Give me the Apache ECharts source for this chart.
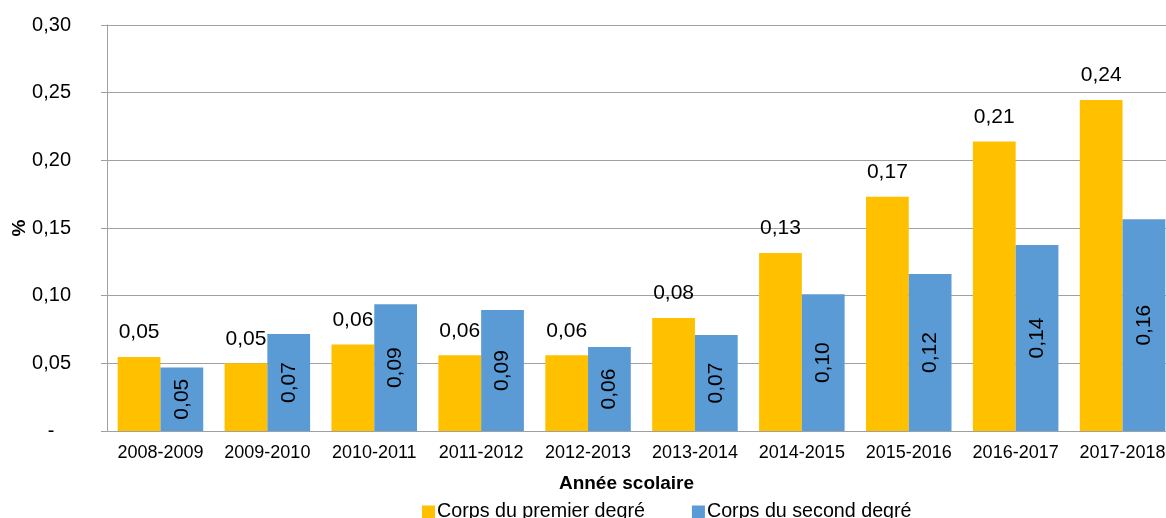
<!DOCTYPE html>
<html>
<head>
<meta charset="utf-8">
<script src="https://cdn.jsdelivr.net/npm/echarts@6/dist/echarts.min.js"></script>
<style>
  html, body { margin: 0; padding: 0; background: #fff; }
  #chart { width: 1166px; height: 518px; }
</style>
</head>
<body>
<div id="chart"></div>
<script>
// données
const annees = ['2008-2009', '2009-2010', '2010-2011', '2011-2012', '2012-2013',
  '2013-2014', '2014-2015', '2015-2016', '2016-2017', '2017-2018']
const premierDegre = [0.0547, 0.050, 0.064, 0.056, 0.056, 0.0835, 0.1315, 0.173, 0.214, 0.2446]
const secondDegre = [0.047, 0.0717, 0.0936, 0.0894, 0.062, 0.071, 0.101, 0.116, 0.1375, 0.1564]
const seriesNames = ['Corps du premier degré', 'Corps du second degré']

const fmt = v => v.toFixed(2).replace('.', ',')
const font = '"Liberation Sans", Arial, sans-serif'

let myChart = echarts.init(document.getElementById('chart'))
let option = {
  animation: false,
  textStyle: { fontFamily: font, color: '#000' },
  color: ['#FFC000', '#5B9BD5'],
  grid: { left: 107, right: -10, top: 25, bottom: 87, outerBoundsMode: 'none', containLabel: false },
  legend: {
    data: seriesNames,
    left: 417,
    top: 497,
    icon: 'rect',
    itemWidth: 13,
    itemHeight: 13,
    itemGap: 47,
    textStyle: { fontSize: 19.7, color: '#000', fontFamily: font, padding: [0, 0, 0, -3] }
  },
  xAxis: {
    type: 'category',
    data: annees,
    name: 'Année scolaire',
    nameLocation: 'middle',
    nameGap: 43,
    nameMoveOverlap: false,
    nameTextStyle: { fontSize: 19, fontWeight: 'bold', color: '#000', padding: [0, 30, 0, 0], verticalAlign: 'top' },
    axisLine: { lineStyle: { color: '#a0a0a0', width: 1 } },
    axisTick: { length: 6, lineStyle: { color: '#a0a0a0' } },
    axisLabel: { fontSize: 18, color: '#000', margin: 13, interval: 0 }
  },
  yAxis: {
    type: 'value',
    min: 0,
    max: 0.3,
    interval: 0.05,
    name: '%',
    nameLocation: 'middle',
    nameRotate: 90,
    nameGap: 78,
    nameMoveOverlap: false,
    nameTextStyle: { fontSize: 19, fontWeight: 'bold', color: '#000' },
    axisLine: { show: true, lineStyle: { color: '#a0a0a0' } },
    axisTick: { show: true, length: 6, lineStyle: { color: '#a0a0a0' } },
    splitLine: { lineStyle: { color: '#a0a0a0' } },
    axisLabel: {
      fontSize: 20,
      color: '#000',
      margin: 36,
      formatter: v => (v === 0 ? '-   ' : fmt(v))
    }
  },
  series: [
    {
      name: seriesNames[0],
      type: 'bar',
      data: premierDegre,
      barGap: 0,
      barCategoryGap: '20%',
      label: {
        show: true,
        position: 'top',
        distance: 14,
        fontSize: 21,
        color: '#000',
        formatter: p => fmt(p.value)
      }
    },
    {
      name: seriesNames[1],
      type: 'bar',
      data: secondDegre,
      barGap: 0,
      barCategoryGap: '20%',
      label: {
        show: true,
        position: 'inside',
        rotate: 90,
        fontSize: 21,
        color: '#000',
        formatter: p => fmt(p.value)
      }
    }
  ]
}
option && myChart.setOption(option)
window.onresize = myChart.resize
</script>
</body>
</html>
